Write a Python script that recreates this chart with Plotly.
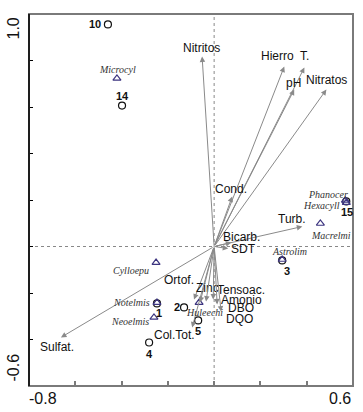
import plotly.graph_objects as go

# Environmental variables (arrow tips)
env_names = ["Nitritos", "Hierro", "T.", "pH", "Nitratos", "Cond.", "Turb.", "Bicarb.", "SDT",
             "Ortof.", "Zinc", "Col.Tot.", "Tensoac.", "Amonio", "DBO", "DQO", "Sulfat."]
env_x = [-0.052, 0.303, 0.390, 0.346, 0.485, 0.078, 0.381, 0.074, 0.061,
         -0.087, -0.061, -0.095, -0.035, -0.004, 0.013, 0.030, -0.662]
env_y = [0.817, 0.774, 0.770, 0.675, 0.675, 0.215, 0.086, 0.017, -0.009,
         -0.228, -0.241, -0.348, -0.237, -0.228, -0.249, -0.280, -0.391]

# Sites
site_names = ["10", "14", "15", "3", "1", "2", "4", "5"]
site_x = [-0.459, -0.398, 0.571, 0.294, -0.247, -0.130, -0.281, -0.069]
site_y = [0.955, 0.606, 0.194, -0.060, -0.245, -0.262, -0.413, -0.318]

# Species
sp_names = ["Microcyl", "Phanocer", "Hexacyll", "Macrelmi", "Astrolim", "Cylloepu",
            "Notelmis", "Neoelmis", "Huleechi"]
sp_x = [-0.420, 0.567, 0.571, 0.459, 0.294, -0.251, -0.247, -0.260, -0.065]
sp_y = [0.723, 0.198, 0.189, 0.099, -0.056, -0.069, -0.241, -0.305, -0.241]

# label offsets in pixels (style)
env_shift = [(-1, 9), (-7, 11), (0, 11), (-1, 7), (0, 10), (-1, 8), (-10, 8), (10, 6), (15, 0),
             (-15, 20), (7, 15), (-18, -8), (35, 12), (28, 0), (24, -4), (18, -7), (-4, -10)]
site_shift = [(-13, 0), (0, 10), (1, -11), (5, -11), (2, -10), (-7, 0), (0, -11), (0, -11)]
sp_shift = [(1, 9), (-17, 6), (-25, -3), (11, -12), (7, 8), (-25, -8), (-25, 0), (-24, -4), (5, -10)]

X_RANGE = [-0.8, 0.6]
Y_RANGE = [-0.6, 1.0]

fig = go.Figure()

fig.add_trace(go.Scatter(x=site_x, y=site_y, mode="markers",
                         marker=dict(symbol="circle-open", size=7, color="#111111", line=dict(width=1.2)),
                         hoverinfo="skip", showlegend=False))
fig.add_trace(go.Scatter(x=sp_x, y=sp_y, mode="markers",
                         marker=dict(symbol="triangle-up-open", size=7, color="#3d3580", line=dict(width=1.2)),
                         hoverinfo="skip", showlegend=False))

ann = []
for n, x, y, (dx, dy) in zip(env_names, env_x, env_y, env_shift):
    ann.append(dict(x=x, y=y, ax=0, ay=0, xref="x", yref="y", axref="x", ayref="y",
                    text="", showarrow=True, arrowhead=2, arrowsize=1.1, arrowwidth=1,
                    arrowcolor="#8a8a8a"))
    ann.append(dict(x=x, y=y, xref="x", yref="y", text=n, showarrow=False,
                    xshift=dx, yshift=dy,
                    font=dict(family="Liberation Sans, Arial", size=12, color="#111111")))
for n, x, y, (dx, dy) in zip(site_names, site_x, site_y, site_shift):
    ann.append(dict(x=x, y=y, xref="x", yref="y", text="<b>%s</b>" % n, showarrow=False,
                    xshift=dx, yshift=dy,
                    font=dict(family="Liberation Sans, Arial", size=11, color="#111111")))
for n, x, y, (dx, dy) in zip(sp_names, sp_x, sp_y, sp_shift):
    ann.append(dict(x=x, y=y, xref="x", yref="y", text="<i>%s</i>" % n, showarrow=False,
                    xshift=dx, yshift=dy,
                    font=dict(family="Liberation Serif, Times New Roman", size=10, color="#333333")))

axfont = dict(family="Liberation Sans, Arial", size=16, color="#111111")
ann += [
    dict(x=X_RANGE[0], y=0, xref="x", yref="paper", text="-0.8", showarrow=False,
         xanchor="left", yanchor="top", xshift=-2, yshift=-2, font=axfont),
    dict(x=X_RANGE[1], y=0, xref="x", yref="paper", text="0.6", showarrow=False,
         xanchor="right", yanchor="top", xshift=0, yshift=-2, font=axfont),
    dict(x=0, y=Y_RANGE[1], xref="paper", yref="y", text="1.0", showarrow=False,
         textangle=-90, xanchor="right", yanchor="top", xshift=-6, yshift=-2, font=axfont),
    dict(x=0, y=Y_RANGE[0], xref="paper", yref="y", text="-0.6", showarrow=False,
         textangle=-90, xanchor="right", yanchor="bottom", xshift=-6, yshift=2, font=axfont),
]

shapes = [
    dict(type="line", xref="x", yref="y", x0=0, x1=0, y0=Y_RANGE[0], y1=Y_RANGE[1],
         line=dict(color="#888888", width=1, dash="dot"), layer="below"),
    dict(type="line", xref="x", yref="y", x0=X_RANGE[0], x1=X_RANGE[1], y0=0, y1=0,
         line=dict(color="#888888", width=1, dash="dot"), layer="below"),
    dict(type="rect", xref="paper", yref="paper", x0=0, x1=1, y0=0, y1=1,
         line=dict(color="#7a7a7a", width=2)),
    dict(type="line", xref="paper", yref="paper", x0=0, x1=0, y0=0, y1=1,
         line=dict(color="#000000", width=1.5)),
]

fig.update_layout(
    width=363, height=412,
    margin=dict(l=29, r=10, t=14, b=26),
    paper_bgcolor="white", plot_bgcolor="white",
    annotations=ann, shapes=shapes,
    xaxis=dict(range=X_RANGE, showgrid=False, zeroline=False, showline=False,
               ticks="inside", ticklen=5, tickcolor="#7a7a7a", tickwidth=1.5,
               tick0=-0.8, dtick=0.2, showticklabels=False),
    yaxis=dict(range=Y_RANGE, showgrid=False, zeroline=False, showline=False,
               ticks="inside", ticklen=4, tickcolor="#000000", tickwidth=1,
               tick0=-0.6, dtick=0.2, showticklabels=False),
)

fig.write_html("out.html", config={"displayModeBar": False},
               post_script="document.body.style.margin='0';document.body.style.overflow='hidden';")
